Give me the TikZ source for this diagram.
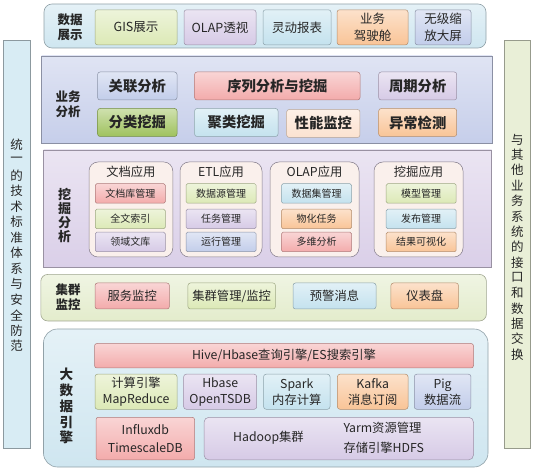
\documentclass[tikz,border=0pt]{standalone}
\usepackage{fontspec}
\setmainfont{Noto Sans CJK SC}
\usetikzlibrary{calc}

\definecolor{bandblue}{HTML}{CFE6F0}
\definecolor{bandlav}{HTML}{C6CEEA}
\definecolor{bandpur}{HTML}{DACFE8}
\definecolor{bandgrn}{HTML}{E3ECCC}
\definecolor{panel}{HTML}{FAF0EC}
\definecolor{cgreen}{HTML}{DCE9B6}
\definecolor{cdgreen}{HTML}{9FC25E}
\definecolor{cpurple}{HTML}{D6CAE6}
\definecolor{cblue}{HTML}{C4E2EE}
\definecolor{cbgray}{HTML}{C2CDEA}
\definecolor{corange}{HTML}{F9C497}
\definecolor{cpeach}{HTML}{FCE2D0}
\definecolor{cpink}{HTML}{F3ABAB}
\definecolor{sideblue}{HTML}{D8ECF4}
\definecolor{sidegrn}{HTML}{E9EFD7}

\begin{document}
\lineskiplimit=-100pt
\begin{tikzpicture}[x=1pt,y=-1pt,
	band/.style={draw=#1!70!black, top color=#1!55!white, bottom color=#1, line width=0.6pt, inner sep=0pt},
	box/.style={draw=#1!72!black, top color=#1!50!white, bottom color=#1, rounded corners=2.5pt, line width=0.5pt, inner sep=0pt, align=center, text=black!85},
	lbl/.style={font=\bfseries\fontsize{12.5}{15}\selectfont, align=center, text=black!85},
	side/.style={draw=#1!65!black, fill=#1, line width=0.6pt, inner sep=0pt},
	sidetxt/.style={font=\fontsize{12.5}{15}\selectfont, text=black!85, inner sep=0pt}]
	\useasboundingbox (0,0) rectangle (533,470);
	% side bars
	\node[side=sideblue, minimum width=26.6, minimum height=408] (lside) at (16.7,244) {};
	\node[side=sidegrn, minimum width=26.6, minimum height=408] (rside) at (517.3,244) {};
	\foreach \c [count=\i] in {统,一,的,技,术,标,准,体,系,与,安,全,防,范}
		\node[sidetxt] (l\i) at (16.7,144.6+15.5*\i-15.5) {\c};
	\foreach \c [count=\i] in {与,其,他,业,务,系,统,的,接,口,和,数,据,交,换}
		\node[sidetxt] (r\i) at (517.3,139.5+15.35*\i-15.35) {\c};

	% data display
	\node[band=bandblue, rounded corners=8pt, minimum width=442, minimum height=44] (show) at (265,26) {};
	\node[lbl] (showlbl) at (70,27) {数据\\展示};
	\foreach \n/\x/\w/\c/\t in {gis/136/82/cgreen/GIS展示, olap/220/72/cpurple/OLAP透视, rep/297/68/cblue/灵动报表, cock/372.5/71/corange/业务\\驾驶舱, scr/443/56/cbgray/无级缩\\放大屏}
		\node[box=\c, minimum width=\w, minimum height=35, font=\fontsize{12.5}{17}\selectfont] (\n) at (\x,27.3) {\t};

	% business analysis
	\node[band=bandlav, minimum width=450.5, minimum height=87] (biz) at (266.75,99.5) {};
	\node[lbl] (bizlbl) at (68,104) {业务\\分析};
	\foreach \n/\x/\y/\w/\c/\t in {assoc/137.3/86/79.4/cbgray/关联分析, seq/277.3/86/165.4/cpink/序列分析与挖掘, period/417.7/86/78/cpurple/周期分析, cls/137.3/122.5/79.4/cdgreen/分类挖掘, clu/236.3/122.5/83.4/cblue/聚类挖掘, perf/323.3/123.5/73.3/cpeach/性能监控, anom/417.7/122.5/78/corange/异常检测}
		\node[box=\c, minimum width=\w, minimum height=28, font=\bfseries\fontsize{14.3}{16}\selectfont] (\n) at (\x,\y) {\t};

	% mining analysis
	\node[band=bandpur, minimum width=448, minimum height=117.5] (mine) at (267.5,208.75) {};
	\foreach \c [count=\i] in {挖,掘,分,析}
		\node[lbl, font=\bfseries\fontsize{13}{15}\selectfont] (m\i) at (64.6,194.4+14.2*\i-14.2) {\c};
	\foreach \n/\x/\w/\t in {doc/130.9/83.8/文档应用, etl/221/82/ETL应用, olapapp/314.5/89/OLAP应用, minapp/418.5/89/挖掘应用}{
		\node[draw=bandpur!60!black, fill=panel, rounded corners=9pt, minimum width=\w, minimum height=95, line width=0.5pt] (\n) at (\x,209.5) {};
		\node[font=\fontsize{12.3}{14}\selectfont, text=black!85] (\n t) at (\x,172.3) {\t};
	}
	\foreach \n/\x/\y/\c/\t in {
		doca/130.3/193.5/cpink/文档库管理, docb/130.3/219/cgreen/全文索引, docc/130.3/242/cpurple/领域文库,
		etla/221.1/193.5/cgreen/数据源管理, etlb/221.1/219/cpurple/任务管理, etlc/221.1/242/cbgray/运行管理,
		olapa/316.5/193.5/cblue/数据集管理, olapb/316.5/219/corange/物化任务, olapc/316.5/242/cpink/多维分析,
		mina/421.2/193.5/cgreen/模型管理, minb/421.2/219/cblue/发布管理, minc/421.2/242/corange/结果可视化}
		\node[box=\c, minimum width=70, minimum height=19.5, font=\fontsize{10}{12}\selectfont, rounded corners=1.5pt] (\n) at (\x,\y) {\t};

	% cluster monitoring
	\node[band=bandgrn, rounded corners=7pt, minimum width=445.6, minimum height=46.6] (mon) at (263.6,297.7) {};
	\node[lbl] (monlbl) at (68,297.5) {集群\\监控};
	\foreach \n/\x/\w/\c/\t in {svc/132.2/74.4/cpink/服务监控, grp/231.7/87.5/cgreen/{集群管理/监控}, warn/334.5/83/cblue/预警消息, dash/424.7/67.5/corange/仪表盘}
		\node[box=\c, minimum width=\w, minimum height=26, font=\fontsize{12.3}{14}\selectfont] (\n) at (\x,296) {\t};

	% big data engine
	\node[band=bandblue, rounded corners=14pt, minimum width=444.5, minimum height=138] (eng) at (265.75,398) {};
	\foreach \c [count=\i] in {大,数,据,引,擎}
		\node[lbl, font=\bfseries\fontsize{13.5}{15}\selectfont] (e\i) at (66.3,374.8+15.75*\i-15.75) {\c};
	\node[box=cpink, minimum width=379, minimum height=24.5, font=\fontsize{12.3}{14}\selectfont] (hive) at (284,355.75) {Hive/Hbase查询引擎/ES搜索引擎};
	\foreach \n/\x/\w/\c/\t in {mr/136/82/cgreen/计算引擎\\MapReduce, hbase/220.2/73/cpurple/Hbase\\OpenTSDB, spark/296.8/66.4/cblue/Spark\\内存计算, kafka/372.7/70.6/corange/Kafka\\消息订阅, pig/442.6/56.7/cbgray/Pig\\数据流}
		\node[box=\c, minimum width=\w, minimum height=35, font=\fontsize{12.3}{16}\selectfont] (\n) at (\x,391.75) {\t};
	\node[box=cpink, minimum width=98.6, minimum height=42.7, font=\fontsize{12.3}{18}\selectfont] (influx) at (145.3,438.6) {Influxdb\\TimescaleDB};
	\node[box=cpurple, minimum width=269.5, minimum height=42.7, rounded corners=5pt] (hadoop) at (338.75,438.6) {};
	\node[font=\fontsize{12.3}{15}\selectfont, text=black!85] (hadoopt) at ($(hadoop.west)+(64.7,-1)$) {Hadoop集群};
	\node[font=\fontsize{12.3}{20}\selectfont, text=black!85, align=left] (yarn) at ($(hadoop.west)+(180,-1)$) {Yarm资源管理\\存储引擎HDFS};
\end{tikzpicture}
\end{document}
